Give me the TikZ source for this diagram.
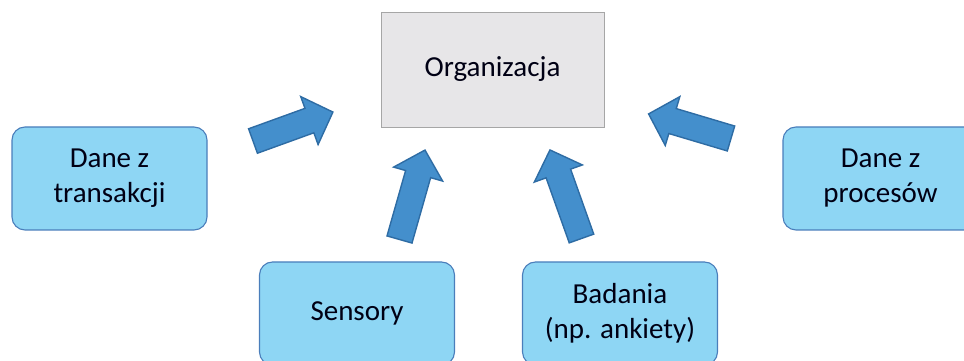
\documentclass[tikz,border=0pt]{standalone}
\usepackage{fontspec}
\setmainfont{Carlito}
\begin{document}
\begin{tikzpicture}[x=1pt,y=1pt,
  label text/.style={font=\fontsize{29}{35}\selectfont, text=black!92!blue, align=center, inner sep=0pt},
  sourcebox/.style={label text, draw=boxedge, fill=boxfill, line width=1.1pt, rounded corners=13pt,
    minimum width=195, minimum height=103},
  orgbox/.style={label text, draw=orgedge, fill=orgfill, line width=0.9pt,
    minimum width=223, minimum height=115},
  arrowbody/.style={draw=arrowedge, fill=arrowfill, line width=1.4pt, line join=miter},
  pics/blockarrow/.style={code={
    \draw[arrowbody] (0,-13) -- (#1-25,-13) -- (#1-25,-25.5) -- (#1,0)
      -- (#1-25,25.5) -- (#1-25,13) -- (0,13) -- cycle;
  }}
]
\definecolor{boxfill}{RGB}{142,214,244}
\definecolor{boxedge}{RGB}{74,126,187}
\definecolor{orgfill}{RGB}{231,230,232}
\definecolor{orgedge}{RGB}{166,166,166}
\definecolor{arrowfill}{RGB}{68,143,204}
\definecolor{arrowedge}{RGB}{46,108,164}

\useasboundingbox (0,0) rectangle (964,361);
\clip (0,0) rectangle (964,361);

% central box
\node[orgbox] (org) at (492.5,291.5) {Organizacja};

% data sources
\node[sourcebox] (trans) at (109.5,182.5) {Dane z\\transakcji};
\node[sourcebox] (proc)  at (880.5,182.5) {Dane z\\procesów};
\node[sourcebox] (sens)  at (357,47.5) {Sensory};
\node[sourcebox] (bad)   at (620,47.5) {Badania\\(np. ankiety)};

% block arrows pointing towards the organization
\pic[rotate=19.9]  at (253,220)   {blockarrow=85};
\pic[rotate=74.1]  at (399.5,121.5) {blockarrow=93};
\pic[rotate=109.6] at (581.5,122.5) {blockarrow=94};
\pic[rotate=163.4] at (731,222.5) {blockarrow=86};
\end{tikzpicture}
\end{document}
